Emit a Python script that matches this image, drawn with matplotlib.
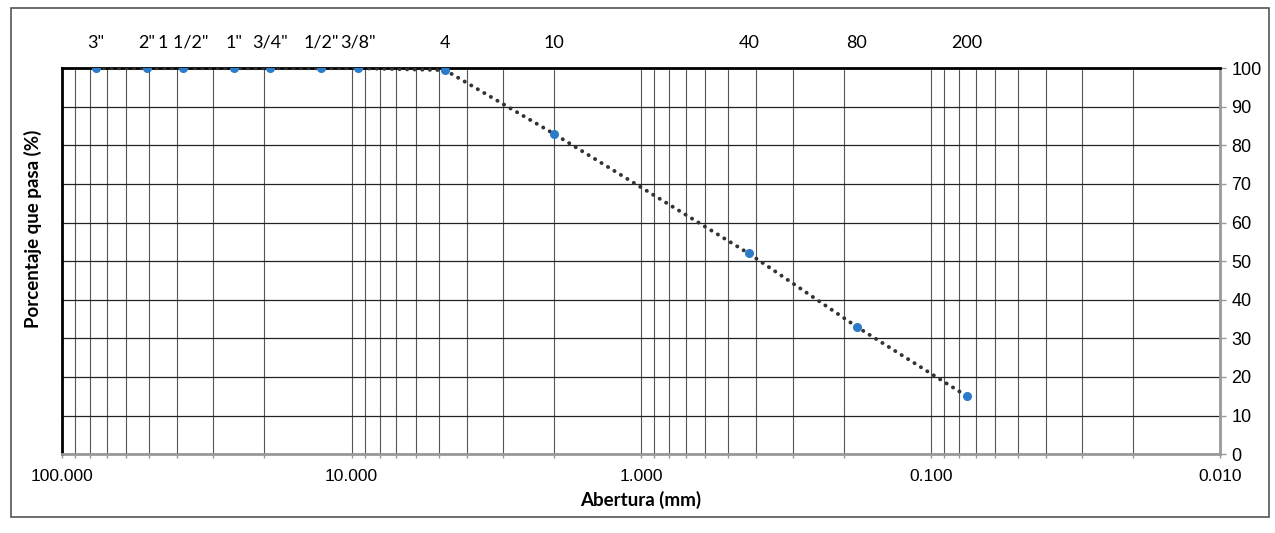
import numpy as np
import matplotlib.pyplot as plt
from matplotlib.ticker import LogLocator, FixedLocator, NullFormatter
import matplotlib.transforms as mtransforms
from matplotlib.patches import Rectangle

# Tamices y resultados del ensayo granulométrico
tamices = ['3"', '2"', '1 1/2"', '1"', '3/4"', '1/2"', '3/8"', '4', '10', '40', '80', '200']
abertura_mm = [76.2, 50.8, 38.1, 25.4, 19.05, 12.7, 9.525, 4.75, 2.0, 0.425, 0.18, 0.075]
pasa_pct = [100, 100, 100, 100, 100, 100, 100, 99.5, 83, 52, 33, 15]

x_ticks = [100, 10, 1, 0.1, 0.01]
x_tick_labels = ['100.000', '10.000', '1.000', '0.100', '0.010']
y_ticks = list(range(0, 101, 10))

plt.rcParams['font.family'] = ['Liberation Sans', 'DejaVu Sans']

fig = plt.figure(figsize=(12.75, 5.33), dpi=100)
ax = fig.add_axes([0.0486, 0.148, 0.9085, 0.724])

# marco exterior del gráfico
fig.patches.append(Rectangle((0.009, 0.03), 0.986, 0.955, transform=fig.transFigure,
                             fill=False, edgecolor='#555555', lw=1.2))

ax.plot(abertura_mm, pasa_pct, color='#333333', lw=2.8,
        linestyle=(0, (0.05, 1.9)), dash_capstyle='round', zorder=3)
ax.plot(abertura_mm, pasa_pct, 'o', color='#2b7bc9', ms=5.5, zorder=4)

ax.set_xscale('log')
ax.set_xlim(100, 0.01)
ax.set_ylim(0, 100)

ax.xaxis.set_major_locator(FixedLocator(x_ticks))
ax.set_xticklabels(x_tick_labels, fontsize=12.5)
ax.xaxis.set_minor_locator(LogLocator(base=10, subs=np.arange(2, 10), numticks=20))
ax.xaxis.set_minor_formatter(NullFormatter())
ax.tick_params(axis='x', which='both', direction='out', length=3, width=1,
               color='#999999', pad=8)

ax.yaxis.tick_right()
ax.set_yticks(y_ticks)
ax.set_yticklabels([str(v) for v in y_ticks], fontsize=13)
ax.tick_params(axis='y', direction='out', length=4, width=1, color='#999999', pad=4)

ax.grid(which='major', axis='y', color='#222222', lw=0.9)
ax.grid(which='both', axis='x', color='#555555', lw=0.8)
ax.set_axisbelow(True)

for side in ['left', 'top']:
    ax.spines[side].set_color('black')
    ax.spines[side].set_linewidth(2)
for side in ['right', 'bottom']:
    ax.spines[side].set_color('#999999')
    ax.spines[side].set_linewidth(2)

ax.set_xlabel('Abertura (mm)', fontsize=13.5, fontweight='bold', family='Lato', labelpad=5)
ax.set_ylabel('Porcentaje que pasa (%)', fontsize=13.5, fontweight='bold', family='Lato')
ax.yaxis.set_label_position('left')
ax.yaxis.set_label_coords(-0.017, 0.585)

# nombres de los tamices sobre cada punto
trans = mtransforms.blended_transform_factory(ax.transData, ax.transAxes)
for nombre, d in zip(tamices, abertura_mm):
    ax.text(d, 1.045, nombre, transform=trans, ha='center', va='bottom',
            fontsize=13, family='Lato')

fig.savefig('out.png', dpi=100)
